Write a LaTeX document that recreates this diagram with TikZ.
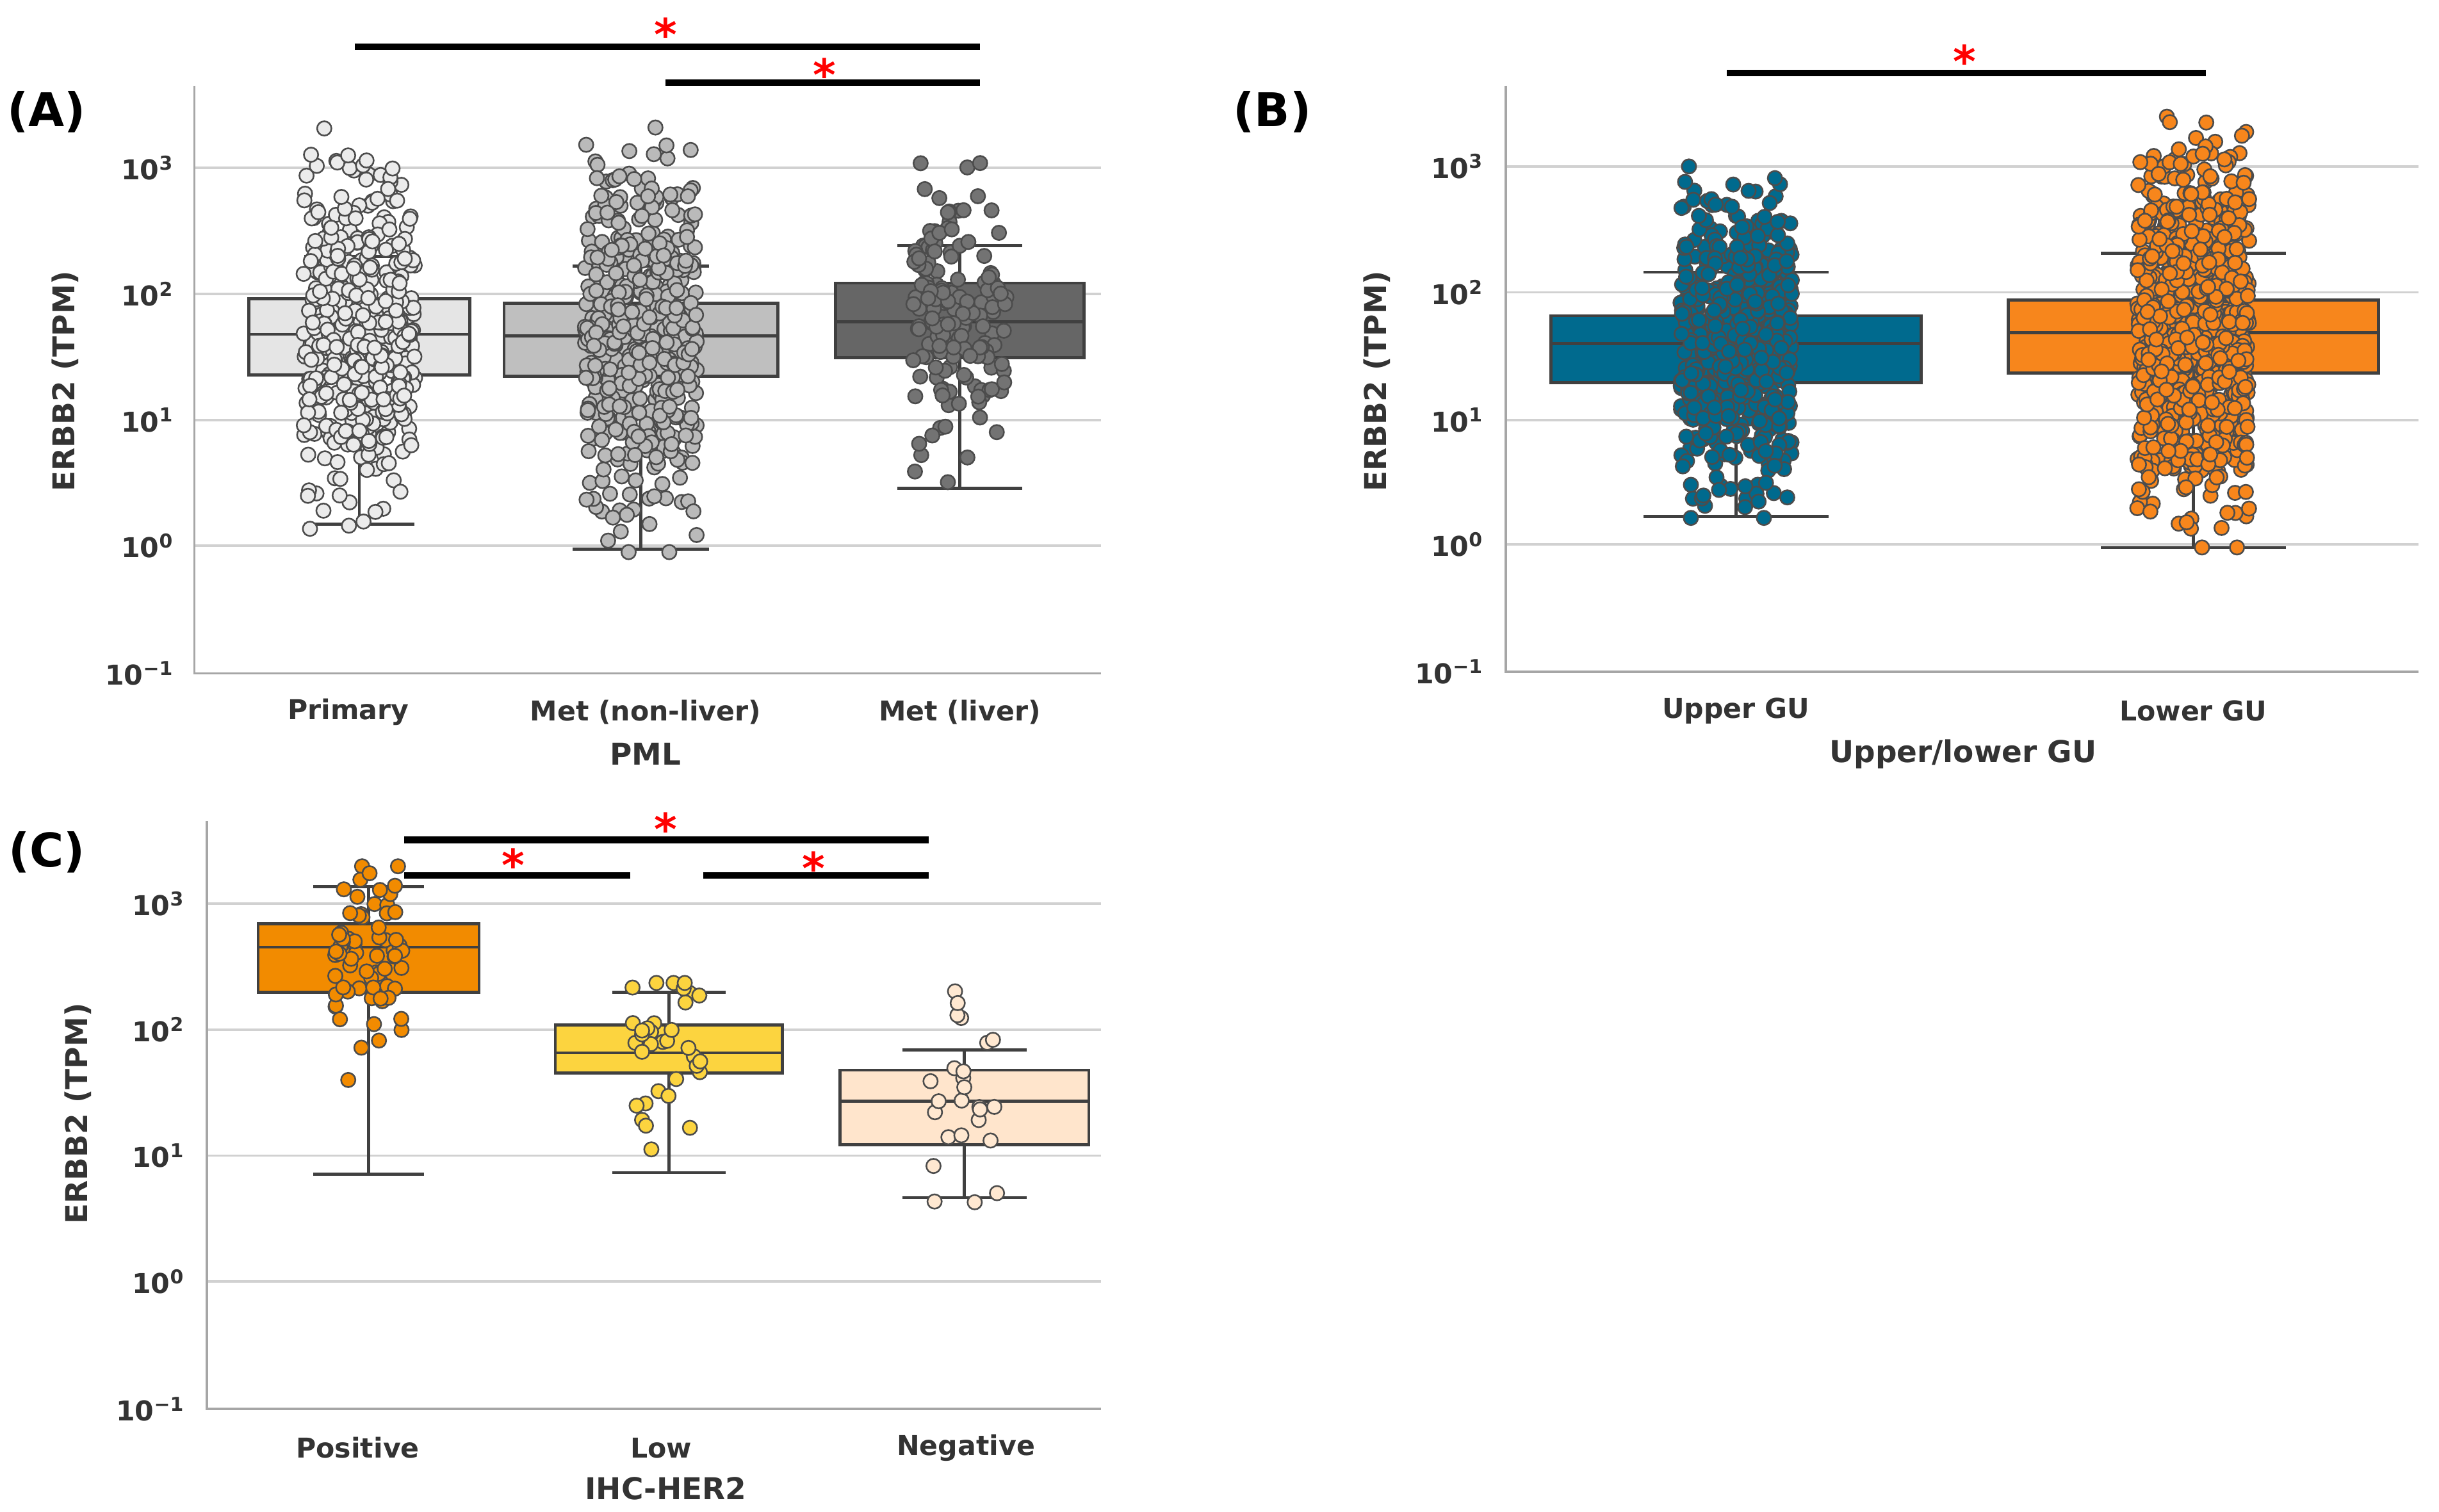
\documentclass[tikz,border=0pt]{standalone}
\usepackage{fontspec}
\setmainfont{DejaVu Sans}
\definecolor{gublue}{HTML}{006A8E}
\definecolor{guorange}{HTML}{F7861C}
\begin{document}
\begin{tikzpicture}[x=0.02cm,y=-0.02cm,
  grid/.style={draw=black!18,line width=0.9pt},
  axl/.style={draw=black!35,line width=0.9pt},
  ed/.style={draw=black!75,line width=1.1pt},
  tick/.style={font=\fontsize{10}{12}\selectfont\bfseries,text=black!80},
  lab/.style={font=\fontsize{11}{13}\selectfont\bfseries,text=black!80},
  plab/.style={font=\fontsize{17}{20}\selectfont\bfseries},
  sig/.style={line width=2.4pt},
  star/.style={text=red,font=\fontsize{16}{16}\selectfont\bfseries}]
\useasboundingbox (0,0) rectangle (1568,972);
\pgfmathsetseed{12345}
\newcommand{\bxp}[9]{%
  \def\cx{#1}\def\hw{#2}\def\qt{#3}\def\md{#4}\def\qb{#5}\def\wt{#6}\def\wb{#7}\def\fc{#8}\def\pc{#9}\bxpb}
\newcommand{\bxpb}[6]{%
  \draw[ed] (\cx,\wt) -- (\cx,\qt) (\cx,\qb) -- (\cx,\wb);
  \draw[ed] (\cx-\hw/2,\wt) -- (\cx+\hw/2,\wt) (\cx-\hw/2,\wb) -- (\cx+\hw/2,\wb);
  \filldraw[ed,fill=\fc] (\cx-\hw,\qt) rectangle (\cx+\hw,\qb);
  \draw[ed] (\cx-\hw,\md) -- (\cx+\hw,\md);
  \foreach \i in {1,...,#1}{%
    \pgfmathsetmacro\yy{max(#4,min(#5,#2+#3*(rand+rand+rand)))}%
    \pgfmathsetmacro\xx{\cx+#6*rand}%
    \filldraw[draw=black!70,line width=0.6pt,fill=\pc] (\xx,\yy) circle (4.6);}
}
% ---------- Panel A ----------
\foreach \y in {108,189,270,351}{\draw[grid] (125,\y) -- (708,\y);}
\draw[axl] (125,55) -- (125,433) -- (708,433);
\node[tick,anchor=east] (a3) at (118,108) {10\textsuperscript{3}};
\node[tick,anchor=east] (a2) at (118,189) {10\textsuperscript{2}};
\node[tick,anchor=east] (a1) at (118,270) {10\textsuperscript{1}};
\node[tick,anchor=east] (a0) at (118,351) {10\textsuperscript{0}};
\node[tick,anchor=east] (am) at (118,433) {10\textsuperscript{−1}};
\node[lab,rotate=90] (ay) at (42,245) {ERBB2 (TPM)};
\bxp{231}{71}{192}{215}{241}{165}{337}{black!10}{black!8}{500}{215}{50}{72}{340}{36}
\bxp{412}{88}{195}{216}{242}{171}{353}{black!25}{black!27}{500}{216}{55}{82}{355}{36}
\bxp{617}{80}{182}{207}{230}{158}{314}{black!60}{black!55}{170}{205}{40}{102}{315}{30}
\node[tick] (ax1) at (224,458) {Primary};
\node[tick] (ax2) at (415,458) {Met (non-liver)};
\node[tick] (ax3) at (617,458) {Met (liver)};
\node[lab] (axl) at (415,485) {PML};
\node[plab] (A) at (30,72) {(A)};
\coordinate (s1a) at (228,30); \coordinate (s1b) at (630,30);
\coordinate (s2a) at (428,53); \coordinate (s2b) at (630,53);
\draw[sig] (s1a) -- (s1b); \draw[sig] (s2a) -- (s2b);
\node[star] (st1) at (428,22) {*}; \node[star] (st2) at (530,48) {*};
% ---------- Panel B ----------
\foreach \y in {107,188,270,350}{\draw[grid] (968,\y) -- (1555,\y);}
\draw[axl] (968,55) -- (968,432) -- (1555,432);
\node[tick,anchor=east] (b3) at (960,107) {10\textsuperscript{3}};
\node[tick,anchor=east] (b2) at (960,188) {10\textsuperscript{2}};
\node[tick,anchor=east] (b1) at (960,270) {10\textsuperscript{1}};
\node[tick,anchor=east] (b0) at (960,350) {10\textsuperscript{0}};
\node[tick,anchor=east] (bm) at (960,432) {10\textsuperscript{−1}};
\node[lab,rotate=90] (by) at (885,245) {ERBB2 (TPM)};
\bxp{1116}{119}{203}{221}{246}{175}{332}{gublue}{gublue}{600}{221}{45}{96}{333}{36}
\bxp{1410}{119}{193}{214}{240}{163}{352}{guorange}{guorange}{900}{212}{55}{75}{352}{36}
\node[tick] (bx1) at (1116,457) {Upper GU};
\node[tick] (bx2) at (1410,457) {Lower GU};
\node[lab] (bxl) at (1262,485) {Upper/lower GU};
\node[plab] (B) at (818,72) {(B)};
\coordinate (s3a) at (1110,47); \coordinate (s3b) at (1418,47);
\draw[sig] (s3a) -- (s3b);
\node[star] (st3) at (1263,39) {*};
% ---------- Panel C ----------
\foreach \y in {581,662,743,824}{\draw[grid] (133,\y) -- (708,\y);}
\draw[axl] (133,528) -- (133,906) -- (708,906);
\node[tick,anchor=east] (c3) at (125,581) {10\textsuperscript{3}};
\node[tick,anchor=east] (c2) at (125,662) {10\textsuperscript{2}};
\node[tick,anchor=east] (c1) at (125,743) {10\textsuperscript{1}};
\node[tick,anchor=east] (c0) at (125,824) {10\textsuperscript{0}};
\node[tick,anchor=east] (cm) at (125,906) {10\textsuperscript{−1}};
\node[lab,rotate=90] (cy) at (50,716) {ERBB2 (TPM)};
\bxp{237}{71}{594}{609}{638}{570}{755}{orange!85!yellow!95!black}{orange!85!yellow!95!black}{70}{615}{30}{557}{755}{22}
\bxp{430}{73}{659}{677}{690}{638}{754}{yellow!60!orange!75}{yellow!60!orange!75}{35}{675}{28}{632}{754}{24}
\bxp{620}{80}{688}{708}{736}{675}{770}{orange!20!white}{orange!18!white}{25}{712}{35}{617}{773}{22}
\node[tick] (cx1) at (230,931) {Positive};
\node[tick] (cx2) at (425,931) {Low};
\node[tick] (cx3) at (621,931) {Negative};
\node[lab] (cxl) at (428,957) {IHC-HER2};
\node[plab] (C) at (30,548) {(C)};
\coordinate (s4a) at (260,540); \coordinate (s4b) at (597,540);
\coordinate (s5a) at (260,563); \coordinate (s5b) at (405,563);
\coordinate (s6a) at (452,563); \coordinate (s6b) at (597,563);
\draw[sig] (s4a) -- (s4b); \draw[sig] (s5a) -- (s5b); \draw[sig] (s6a) -- (s6b);
\node[star] (st4) at (428,533) {*}; \node[star] (st5) at (330,556) {*}; \node[star] (st6) at (523,558) {*};
\end{tikzpicture}
\end{document}
